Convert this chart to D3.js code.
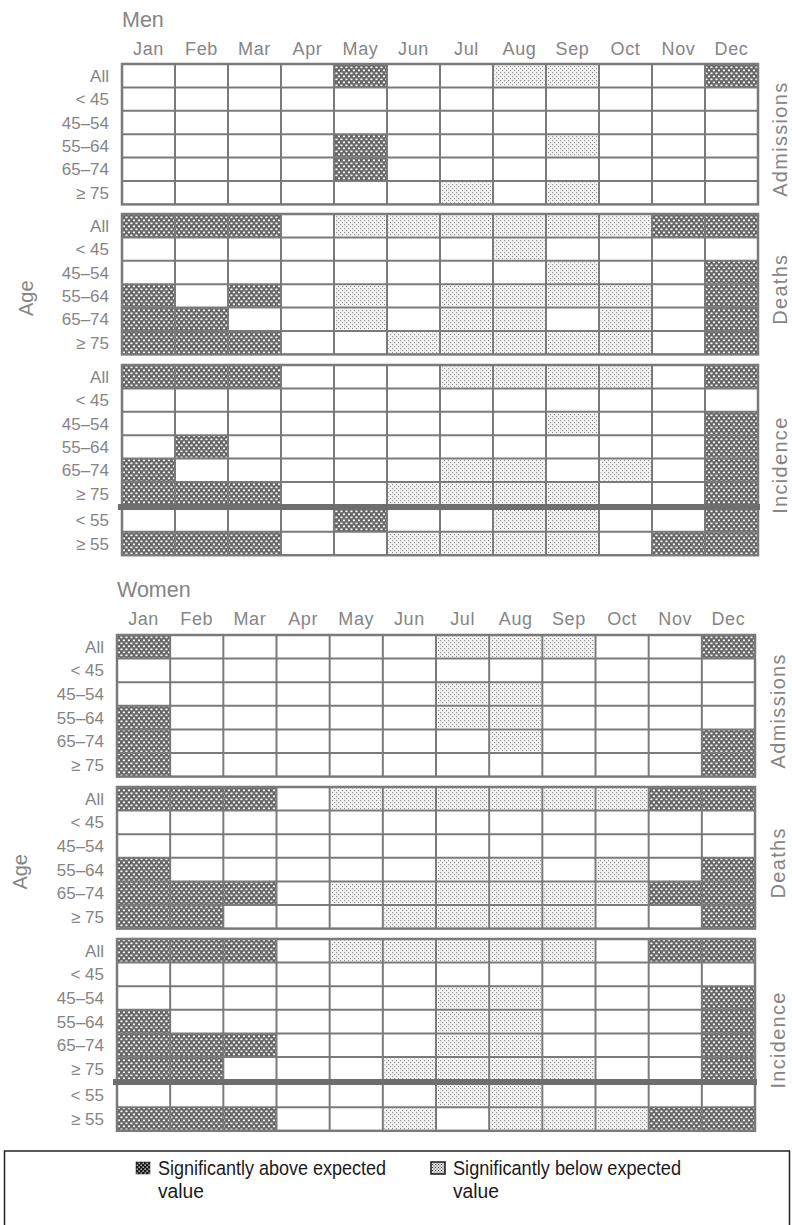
<!DOCTYPE html>
<html>
<head>
<meta charset="utf-8">
<script src="https://cdn.jsdelivr.net/npm/d3@7"></script>
<style>
body { margin: 0; background: #fff; }
svg text { font-family: "Liberation Sans", Arial, sans-serif; }
</style>
</head>
<body>
<script>
var months = ["Jan","Feb","Mar","Apr","May","Jun","Jul","Aug","Sep","Oct","Nov","Dec"];
var ageRows = ["All","< 45","45–54","55–64","65–74","≥ 75"];
var extraRows = ["< 55","≥ 55"];
var measures = ["Admissions","Deaths","Incidence"];

// 1 = significantly above expected, -1 = significantly below, 0 = neither
var menAdmissions = [
  [0,0,0,0,1,0,0,-1,-1,0,0,1],
  [0,0,0,0,0,0,0,0,0,0,0,0],
  [0,0,0,0,0,0,0,0,0,0,0,0],
  [0,0,0,0,1,0,0,0,-1,0,0,0],
  [0,0,0,0,1,0,0,0,0,0,0,0],
  [0,0,0,0,0,0,-1,0,-1,0,0,0]
];
var menDeaths = [
  [1,1,1,0,-1,-1,-1,-1,-1,-1,1,1],
  [0,0,0,0,0,0,0,-1,0,0,0,0],
  [0,0,0,0,0,0,0,0,-1,0,0,1],
  [1,0,1,0,-1,0,-1,-1,-1,-1,0,1],
  [1,1,0,0,-1,0,-1,-1,0,-1,0,1],
  [1,1,1,0,0,-1,-1,-1,-1,-1,0,1]
];
var menIncidence = [
  [1,1,1,0,0,0,-1,-1,-1,-1,0,1],
  [0,0,0,0,0,0,0,0,0,0,0,0],
  [0,0,0,0,0,0,0,0,-1,0,0,1],
  [0,1,0,0,0,0,0,0,0,0,0,1],
  [1,0,0,0,0,0,-1,-1,0,-1,0,1],
  [1,1,1,0,0,-1,-1,-1,-1,0,0,1],
  [0,0,0,0,1,0,0,-1,-1,0,0,1],
  [1,1,1,0,0,-1,-1,-1,-1,0,1,1]
];
var womenAdmissions = [
  [1,0,0,0,0,0,-1,-1,-1,0,0,1],
  [0,0,0,0,0,0,0,0,0,0,0,0],
  [0,0,0,0,0,0,-1,-1,0,0,0,0],
  [1,0,0,0,0,0,-1,-1,0,0,0,0],
  [1,0,0,0,0,0,0,-1,0,0,0,1],
  [1,0,0,0,0,0,0,0,0,0,0,1]
];
var womenDeaths = [
  [1,1,1,0,-1,-1,-1,-1,-1,-1,1,1],
  [0,0,0,0,0,0,0,0,0,0,0,0],
  [0,0,0,0,0,0,0,0,0,0,0,0],
  [1,0,0,0,0,0,-1,-1,0,-1,0,1],
  [1,1,1,0,-1,-1,-1,-1,-1,-1,1,1],
  [1,1,0,0,0,-1,-1,-1,-1,0,0,1]
];
var womenIncidence = [
  [1,1,1,0,-1,-1,-1,-1,-1,0,1,1],
  [0,0,0,0,0,0,0,0,0,0,0,0],
  [0,0,0,0,0,0,-1,-1,0,0,0,1],
  [1,0,0,0,0,0,-1,-1,0,0,0,1],
  [1,1,1,0,0,0,-1,-1,0,0,0,1],
  [1,1,0,0,0,-1,-1,-1,-1,0,0,1],
  [0,0,0,0,0,0,-1,-1,0,0,0,0],
  [1,1,1,0,0,-1,0,-1,-1,-1,1,1]
];
var legendLabels = ["Significantly above expected", "Significantly below expected"];

var width = 792, height = 1225;
var grey = "#7a7a7a", textGrey = "#858585";

var svg = d3.select("body").append("svg")
  .attr("width", width)
  .attr("height", height);

var defs = svg.append("defs");
function pattern(id, bg, fg, w, h, dots) {
  var p = defs.append("pattern").attr("id", id)
    .attr("patternUnits", "userSpaceOnUse")
    .attr("width", w).attr("height", h);
  p.append("rect").attr("width", w).attr("height", h).attr("fill", bg);
  dots.forEach(function(d) {
    p.append("rect").attr("x", d[0]).attr("y", d[1])
      .attr("width", d[2]).attr("height", d[3]).attr("fill", fg);
  });
}
pattern("above", "#666", "#fff", 5, 6, [[0.4,0.5,2.1,1.7],[2.9,3.5,2.1,1.7]]);
pattern("below", "#f3f3f3", "#8c8c8c", 4, 4, [[0,0,1.1,1.1],[2,2,1.1,1.1]]);
pattern("aboveKey", "#1a1a1a", "#fff", 4, 4, [[0.5,0.5,1.3,1.3],[2.5,2.5,1.3,1.3]]);
pattern("belowKey", "#e6e6e6", "#333", 3, 3, [[0,0,1,1],[1.5,1.5,1,1]]);

var panels = [
  {title: "Men", data: [menAdmissions, menDeaths, menIncidence],
   left: 122, right: 758, titleY: 27, monthY: 55, tops: [64, 214, 365], rh: 23.4,
   labelX: 109, ageX: 33, measX: 787},
  {title: "Women", data: [womenAdmissions, womenDeaths, womenIncidence],
   left: 117, right: 755, titleY: 597, monthY: 625, tops: [635, 787, 939], rh: 23.6,
   labelX: 104, ageX: 27, measX: 785}
];
var barGap = 3;

panels.forEach(function(p) {
  var g = svg.append("g");
  var x = d3.scaleBand().domain(months).range([p.left, p.right]);

  g.append("text")
    .attr("x", p.left).attr("y", p.titleY)
    .attr("font-size", 21.5).attr("fill", textGrey)
    .text(p.title);

  g.selectAll("text.month").data(months).join("text")
    .attr("class", "month")
    .attr("x", function(d) { return x(d) + x.bandwidth() / 2; })
    .attr("y", p.monthY)
    .attr("text-anchor", "middle")
    .attr("font-size", 18).attr("letter-spacing", 0.6)
    .attr("fill", textGrey)
    .text(function(d) { return d; });

  p.data.forEach(function(block, bi) {
    var top = p.tops[bi];
    var y = d3.scaleBand().domain(ageRows).range([top, top + 6 * p.rh]);
    var y2 = d3.scaleBand().domain(extraRows)
      .range([top + 6 * p.rh + barGap, top + 8 * p.rh + barGap]);
    var rows = block.length > 6 ? ageRows.concat(extraRows) : ageRows;
    function ry(r) { return ageRows.indexOf(r) >= 0 ? y(r) : y2(r); }
    var bottom = ry(rows[rows.length - 1]) + p.rh;

    var cells = [];
    block.forEach(function(vals, ri) {
      vals.forEach(function(v, ci) {
        if (v !== 0) cells.push({row: rows[ri], month: months[ci], v: v});
      });
    });

    g.selectAll(null).data(cells).join("rect")
      .attr("x", function(d) { return x(d.month) + (d.v > 0 ? 0 : 1.5); })
      .attr("y", function(d) { return ry(d.row) + (d.v > 0 ? 0 : 1.5); })
      .attr("width", function(d) { return x.bandwidth() - (d.v > 0 ? 0 : 3); })
      .attr("height", function(d) { return p.rh - (d.v > 0 ? 0 : 3); })
      .attr("fill", function(d) { return d.v > 0 ? "url(#above)" : "url(#below)"; });

    // grid lines
    g.selectAll(null).data(months.slice(1)).join("line")
      .attr("x1", function(d) { return x(d); })
      .attr("x2", function(d) { return x(d); })
      .attr("y1", top).attr("y2", bottom)
      .attr("stroke", grey).attr("stroke-width", 2);
    g.selectAll(null).data(rows.slice(1).filter(function(r) { return r !== "< 55"; })).join("line")
      .attr("x1", p.left).attr("x2", p.right)
      .attr("y1", function(d) { return ry(d); })
      .attr("y2", function(d) { return ry(d); })
      .attr("stroke", grey).attr("stroke-width", 2);
    g.append("rect")
      .attr("x", p.left).attr("y", top)
      .attr("width", p.right - p.left).attr("height", bottom - top)
      .attr("fill", "none").attr("stroke", grey).attr("stroke-width", 2.5);

    if (block.length > 6) {
      var by = top + 6 * p.rh + barGap / 2;
      g.append("line")
        .attr("x1", p.left - 4).attr("x2", p.right + 2)
        .attr("y1", by).attr("y2", by)
        .attr("stroke", "#6e6e6e").attr("stroke-width", 6);
    }

    g.selectAll(null).data(rows).join("text")
      .attr("x", p.labelX)
      .attr("y", function(d) { return ry(d) + p.rh / 2 + 6; })
      .attr("text-anchor", "end")
      .attr("font-size", 17).attr("fill", textGrey)
      .text(function(d) { return d; });

    var my = (top + bottom) / 2 + 5;
    g.append("text")
      .attr("transform", "translate(" + p.measX + "," + my + ") rotate(-90)")
      .attr("text-anchor", "middle")
      .attr("font-size", 20).attr("letter-spacing", 1.3)
      .attr("fill", textGrey)
      .text(measures[bi]);

    if (bi === 1) {
      g.append("text")
        .attr("transform", "translate(" + p.ageX + "," + (my + 9) + ") rotate(-90)")
        .attr("text-anchor", "middle")
        .attr("font-size", 20).attr("fill", textGrey)
        .text("Age");
    }
  });
});

// legend
var legend = svg.append("g");
legend.append("rect")
  .attr("x", 4.5).attr("y", 1151)
  .attr("width", 785).attr("height", 100)
  .attr("fill", "none").attr("stroke", "#222").attr("stroke-width", 1.5);

var keyX = d3.scalePoint().domain(legendLabels).range([136, 431]);
legendLabels.forEach(function(lab, i) {
  var kx = keyX(lab);
  legend.append("rect")
    .attr("x", kx).attr("y", 1162)
    .attr("width", 14).attr("height", 12)
    .attr("fill", i === 0 ? "url(#aboveKey)" : "url(#belowKey)")
    .attr("stroke", "#1a1a1a").attr("stroke-width", i === 0 ? 0.5 : 1.5);
  legend.append("text")
    .attr("x", kx + 22).attr("y", 1175)
    .attr("font-size", 20.5).attr("fill", "#1a1a1a")
    .attr("textLength", 228).attr("lengthAdjust", "spacingAndGlyphs")
    .text(lab);
  legend.append("text")
    .attr("x", kx + 22).attr("y", 1198)
    .attr("font-size", 20.5).attr("fill", "#1a1a1a")
    .attr("textLength", 46).attr("lengthAdjust", "spacingAndGlyphs")
    .text("value");
});
</script>
</body>
</html>
